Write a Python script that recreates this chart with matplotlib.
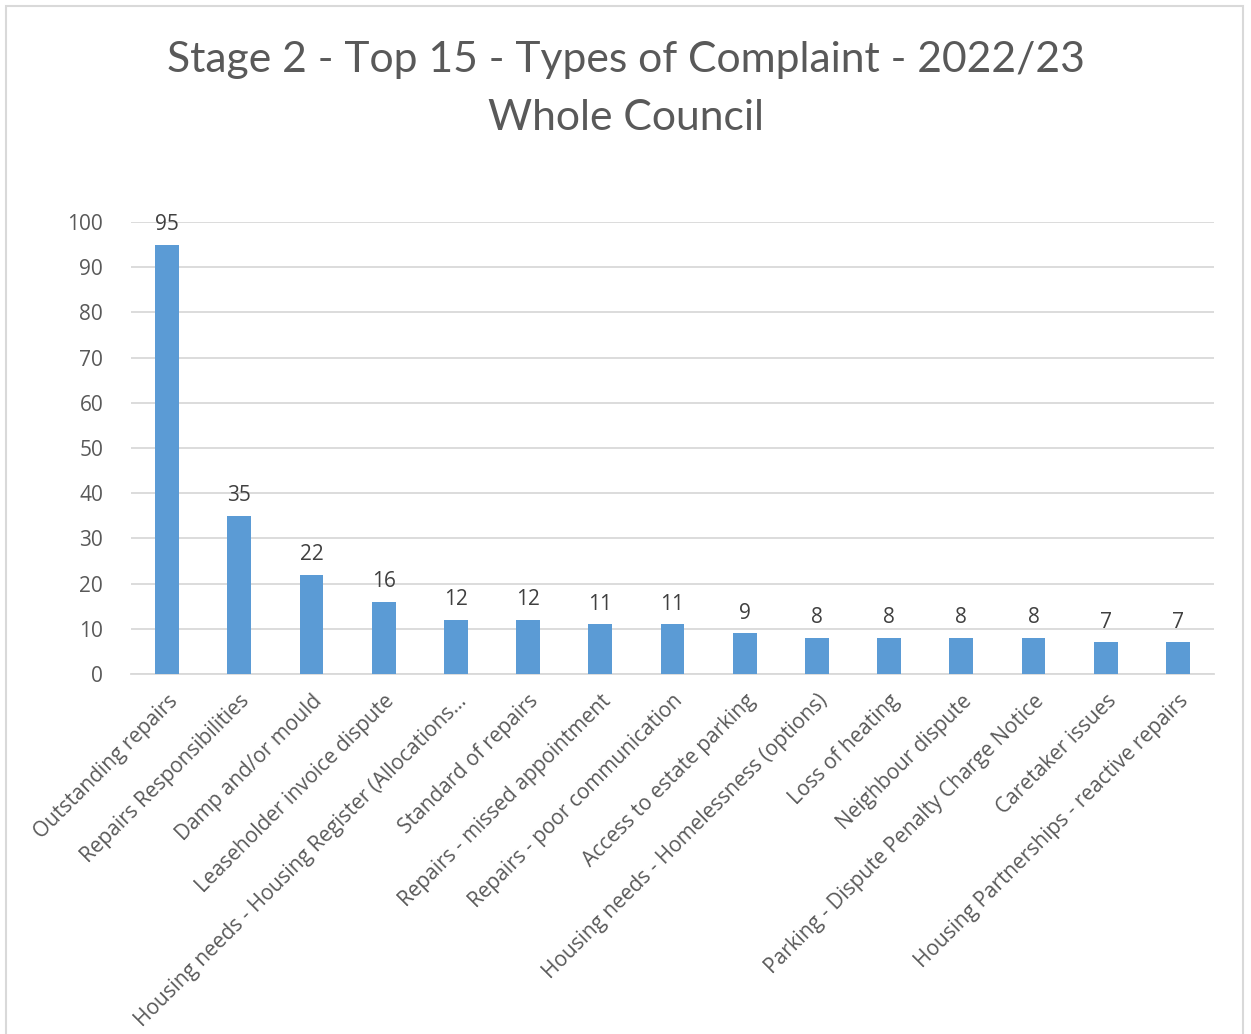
import matplotlib.pyplot as plt
from matplotlib.patches import Rectangle

# Chart data
categories = [
    'Outstanding repairs',
    'Repairs Responsibilities',
    'Damp and/or mould',
    'Leaseholder invoice dispute',
    'Housing needs - Housing Register (Allocations\u2026',
    'Standard of repairs',
    'Repairs - missed appointment',
    'Repairs - poor communication',
    'Access to estate parking',
    'Housing needs - Homelessness (options)',
    'Loss of heating',
    'Neighbour dispute',
    'Parking - Dispute Penalty Charge Notice',
    'Caretaker issues',
    'Housing Partnerships - reactive repairs',
]
counts = [95, 35, 22, 16, 12, 12, 11, 11, 9, 8, 8, 8, 8, 7, 7]
y_ticks = [0, 10, 20, 30, 40, 50, 60, 70, 80, 90, 100]

BAR_COLOR = '#5B9BD5'
TEXT_COLOR = '#595959'
GRID_COLOR = '#D9D9D9'
FONT = ['Open Sans', 'DejaVu Sans']


def create_plot():
    fig = plt.figure(figsize=(12.51, 10.34), dpi=100)
    ax = fig.add_axes([0.1047, 0.3482, 0.8657, 0.4371])

    # outer chart frame
    fig.patches.append(Rectangle((6 / 1251, -0.01), 1237 / 1251, 1 - 6 / 1034 + 0.01,
                                 transform=fig.transFigure, fill=False,
                                 edgecolor=GRID_COLOR, linewidth=1.5))

    x = range(len(categories))
    bars = ax.bar(x, counts, width=0.33, color=BAR_COLOR, zorder=3)

    for rect, val in zip(bars, counts):
        ax.annotate(str(val), (rect.get_x() + rect.get_width() / 2, val),
                    xytext=(0, 7), textcoords='offset points',
                    ha='center', va='bottom', fontsize=15,
                    color='#404040', family=FONT)

    ax.set_xlim(-0.5, len(categories) - 0.5)
    ax.set_ylim(0, 100)
    ax.set_yticks(y_ticks)
    ax.set_yticklabels([str(t) for t in y_ticks], fontsize=15,
                       color=TEXT_COLOR, family=FONT)
    ax.set_xticks(list(x))
    ax.set_xticklabels(categories, rotation=45, ha='right',
                       rotation_mode='anchor', fontsize=15,
                       color=TEXT_COLOR, family=FONT)
    ax.tick_params(axis='both', length=0)
    ax.tick_params(axis='y', pad=20)
    ax.tick_params(axis='x', pad=12)

    ax.yaxis.grid(True, color=GRID_COLOR, linewidth=1.3, zorder=0)
    for side in ['top', 'right', 'left']:
        ax.spines[side].set_visible(False)
    ax.spines['bottom'].set_color(GRID_COLOR)
    ax.spines['bottom'].set_linewidth(1.3)

    fig.text(0.5, 0.942, 'Stage 2 - Top 15 - Types of Complaint - 2022/23',
             ha='center', va='center', fontsize=30.7, color=TEXT_COLOR,
             family='Lato')
    fig.text(0.5, 0.886, 'Whole Council', ha='center', va='center',
             fontsize=30.7, color=TEXT_COLOR, family='Lato')

    return fig


if __name__ == "__main__":
    fig = create_plot()
    fig.savefig('out.png', dpi=100)
